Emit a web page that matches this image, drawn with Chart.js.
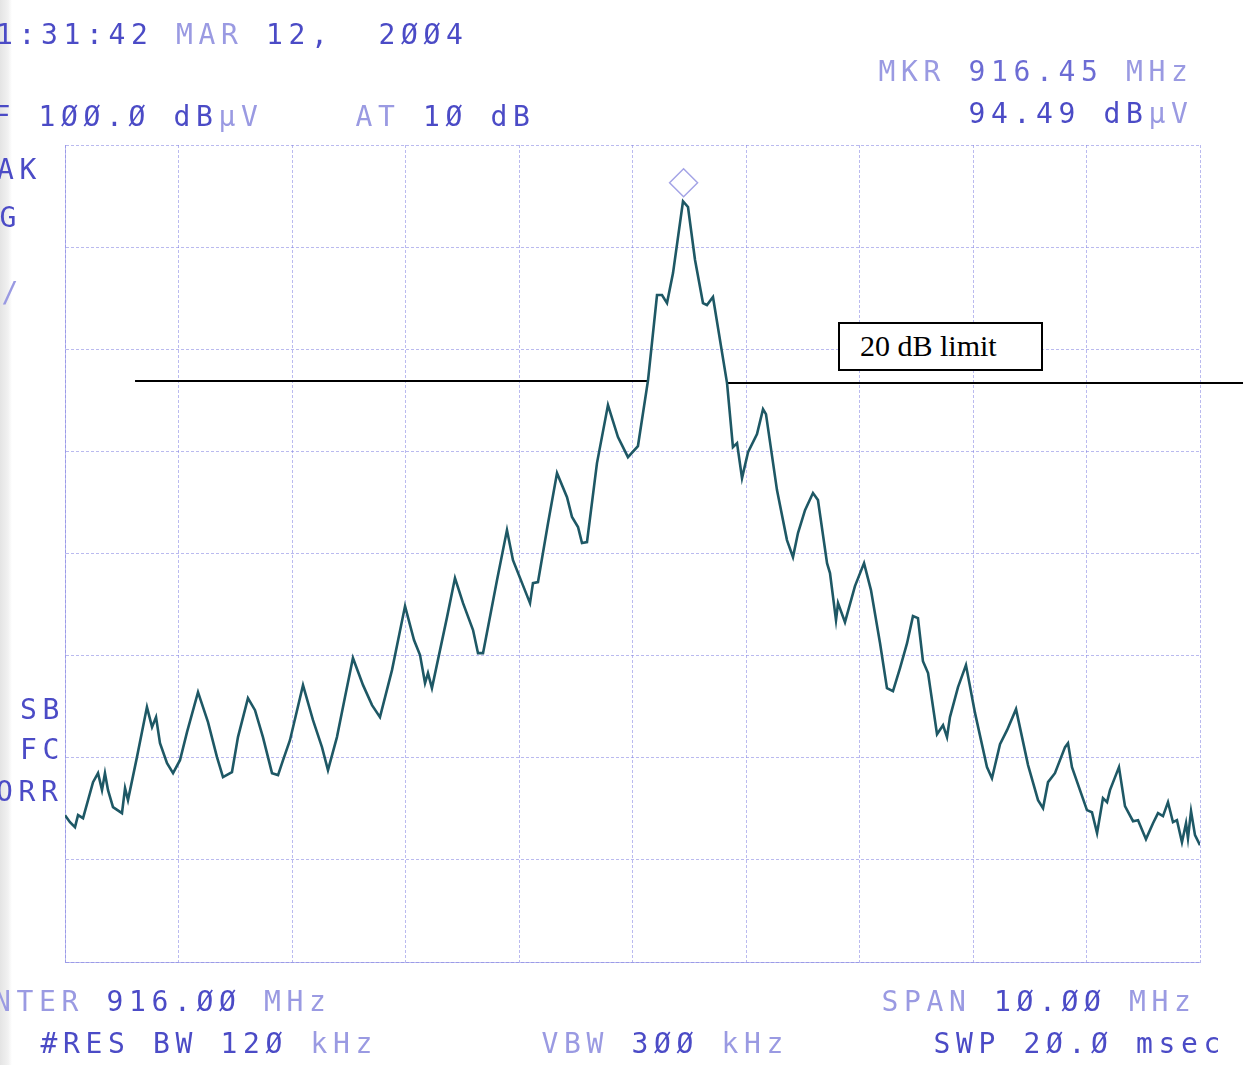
<!DOCTYPE html>
<html>

<head>
    <meta charset="utf-8">
    <script src="https://cdn.jsdelivr.net/npm/chart.js@4.4.1/dist/chart.umd.min.js"></script>
    <style>
        body { margin: 0; background: #fff; overflow: hidden; }
        #wrap { position: relative; width: 1251px; height: 1065px; overflow: hidden;
                background: linear-gradient(to right, #e4e4e4 0px, #f1f1f1 8px, #fff 12px); }
        #wrap canvas { position: absolute; left: 0; top: 0; }
        .t { position: absolute; white-space: pre; font-family: "DejaVu Sans Mono", monospace;
             font-size: 28px; line-height: 28px; letter-spacing: 5.64px; color: #4b4bc6; }
        .lt { color: #9a9ae2; }
        #limitBox { position: absolute; left: 838px; top: 322px; width: 201px; height: 45px;
                    border: 2px solid #000; background: #fff; }
        #limitBox span { position: absolute; left: 20px; top: 5px; font-family: "Liberation Serif", serif;
                         font-size: 30px; line-height: 34px; color: #000; white-space: pre; }
    </style>
</head>

<body>
    <div id="wrap">
        <canvas id="sa" width="1251" height="1065"></canvas>

        <div class="t" style="left:-26.5px;top:21px">11:31:42 <span class="lt">MAR</span> 12,  2ØØ4</div>
        <div class="t" style="left:-51.5px;top:103px">REF 1ØØ.Ø dB<span class="lt">µV</span></div>
        <div class="t lt" style="left:355.5px;top:103px">AT <span style="color:#4b4bc6">1Ø dB</span></div>
        <div class="t lt" style="left:878.5px;top:58px">MKR <span style="color:#6c6cd4">916.45</span> MHz</div>
        <div class="t" style="left:968.5px;top:100px">94.49 dB<span class="lt">µV</span></div>

        <div class="t" style="left:-48px;top:156px">PEAK</div>
        <div class="t" style="left:-45.5px;top:204px">LOG</div>
        <div class="t lt" style="left:-111px;top:279px">1Ø dB/</div>
        <div class="t" style="left:20px;top:696px">SB</div>
        <div class="t" style="left:20px;top:736px">FC</div>
        <div class="t" style="left:-26.5px;top:778px">CORR</div>

        <div class="t" style="left:-51px;top:988px"><span class="lt">CENTER</span> 916.ØØ <span class="lt">MHz</span></div>
        <div class="t" style="left:881.5px;top:988px"><span class="lt">SPAN</span> 1Ø.ØØ <span class="lt">MHz</span></div>
        <div class="t" style="left:40.5px;top:1030px">#RES BW 12Ø <span class="lt">kHz</span></div>
        <div class="t" style="left:541.5px;top:1030px"><span class="lt">VBW</span> 3ØØ <span class="lt">kHz</span></div>
        <div class="t" style="left:933.5px;top:1030px">SWP 2Ø.Ø msec</div>

        <div id="limitBox"><span>20 dB limit</span></div>
    </div>

    <script>
        // spectrum analyzer sweep (MHz / dBuV)
        const traceFreqMHz = [
            911.000, 911.044, 911.088, 911.115, 911.159, 911.247, 911.291, 911.326, 911.352, 911.379,
            911.423, 911.502, 911.529, 911.555, 911.634, 911.722, 911.767, 911.802, 911.837, 911.899,
            911.952, 912.013, 912.075, 912.172, 912.260, 912.339, 912.392, 912.471, 912.524, 912.612,
            912.674, 912.744, 912.824, 912.877, 912.921, 912.982, 913.097, 913.185, 913.264, 913.317,
            913.396, 913.467, 913.537, 913.626, 913.705, 913.775, 913.881, 913.996, 914.075, 914.128,
            914.172, 914.198, 914.233, 914.366, 914.436, 914.507, 914.595, 914.639, 914.683, 914.806,
            914.894, 914.947, 915.097, 915.123, 915.167, 915.256, 915.335, 915.423, 915.467, 915.520,
            915.555, 915.599, 915.687, 915.784, 915.872, 915.960, 916.048, 916.137, 916.216, 916.260,
            916.304, 916.357, 916.445, 916.489, 916.551, 916.621, 916.656, 916.709, 916.833, 916.885,
            916.921, 916.965, 917.018, 917.097, 917.150, 917.176, 917.273, 917.361, 917.414, 917.458,
            917.520, 917.590, 917.634, 917.714, 917.740, 917.793, 917.811, 917.872, 917.960, 918.040,
            918.101, 918.181, 918.242, 918.295, 918.357, 918.419, 918.471, 918.515, 918.559, 918.604,
            918.683, 918.736, 918.771, 918.797, 918.868, 918.938, 919.018, 919.123, 919.167, 919.238,
            919.300, 919.379, 919.485, 919.573, 919.617, 919.661, 919.722, 919.811, 919.837, 919.872,
            920.004, 920.048, 920.093, 920.145, 920.181, 920.207, 920.286, 920.339, 920.410, 920.454,
            920.524, 920.586, 920.630, 920.674, 920.718, 920.762, 920.797, 920.841, 920.877, 920.894,
            920.921, 920.956, 921.000
        ]
        const traceLevel = [
            34.38, 33.69, 33.20, 34.38, 34.08, 37.61, 38.49, 36.83, 38.49, 36.83,
            35.16, 34.57, 37.02, 35.85, 40.06, 44.96, 43.00, 43.98, 41.43, 39.47,
            38.49, 39.76, 42.51, 46.42, 43.49, 40.06, 38.10, 38.59, 42.02, 45.84,
            44.66, 42.02, 38.49, 38.30, 39.76, 41.72, 47.11, 43.68, 41.04, 38.79,
            42.02, 45.94, 49.76, 47.11, 45.15, 43.98, 48.58, 54.85, 51.52, 50.05,
            47.31, 48.29, 46.82, 53.77, 57.59, 55.14, 52.50, 50.24, 50.24, 57.39,
            62.29, 59.35, 55.14, 57.10, 57.20, 62.98, 67.87, 65.52, 63.57, 62.59,
            61.02, 61.12, 68.85, 74.53, 71.40, 69.44, 70.52, 76.98, 85.31, 85.31,
            84.52, 87.46, 94.49, 93.93, 88.74, 84.52, 84.33, 85.11, 76.69, 70.42,
            70.81, 67.38, 69.93, 71.69, 74.14, 73.65, 66.21, 61.31, 59.65, 62.00,
            64.25, 65.92, 65.23, 59.06, 58.08, 53.48, 55.14, 53.28, 56.81, 59.06,
            56.42, 51.22, 46.82, 46.52, 48.78, 51.22, 53.87, 53.67, 49.46, 48.29,
            42.31, 43.19, 42.02, 43.98, 46.91, 49.07, 44.37, 39.08, 38.00, 41.33,
            42.70, 44.76, 39.28, 35.85, 35.06, 37.61, 38.49, 41.04, 41.43, 39.08,
            34.87, 34.67, 32.62, 36.04, 35.65, 36.83, 39.08, 35.26, 33.79, 33.89,
            32.03, 33.59, 34.57, 34.28, 35.65, 33.69, 33.89, 31.73, 33.59, 32.13,
            34.77, 32.42, 31.44
        ]

        // hand drawn "20 dB limit" line, two pieces either side of the peak
        const limitLeftFreq = [911.617, 916.137]
        const limitLeftLevel = [76.89, 76.89]
        const limitRightFreq = [916.833, 921.379]
        const limitRightLevel = [76.69, 76.69]

        // marker diamond above the peak
        const markerFreq = [916.45]
        const markerLevel = [96.3]

        // screen: center 916 MHz, span 10 MHz, ref 100 dBuV, 10 dB/div
        const freqMin = 911, freqMax = 921
        const levelMin = 20, levelMax = 100

        function pts(xs, ys) {
            return xs.map((x, i) => ({ x: x, y: ys[i] }))
        }

        const gridColor = 'rgba(130,130,225,0.55)'

        new Chart(document.getElementById('sa'), {
            type: 'line',
            data: {
                datasets: [
                    {
                        data: pts(traceFreqMHz, traceLevel),
                        borderColor: '#1e5865',
                        borderWidth: 2.6,
                        pointRadius: 0,
                        tension: 0
                    },
                    {
                        data: pts(limitLeftFreq, limitLeftLevel),
                        borderColor: '#000',
                        borderWidth: 2,
                        pointRadius: 0,
                        clip: false
                    },
                    {
                        data: pts(limitRightFreq, limitRightLevel),
                        borderColor: '#000',
                        borderWidth: 2,
                        pointRadius: 0,
                        clip: false
                    },
                    {
                        data: pts(markerFreq, markerLevel),
                        showLine: false,
                        pointStyle: 'rectRot',
                        pointRadius: 14,
                        pointBorderWidth: 1.5,
                        pointBorderColor: '#a4a4e6',
                        pointBackgroundColor: 'rgba(255,255,255,0)',
                        clip: false
                    }
                ]
            },
            options: {
                responsive: false,
                animation: false,
                layout: { padding: { left: 65, top: 145, right: 51, bottom: 103 } },
                plugins: { legend: { display: false }, tooltip: { enabled: false } },
                scales: {
                    x: {
                        type: 'linear',
                        min: freqMin,
                        max: freqMax,
                        ticks: { display: false, stepSize: 1 },
                        grid: { color: gridColor, lineWidth: 1, drawTicks: false, tickLength: 0 },
                        border: { display: true, color: gridColor, dash: [3, 2] }
                    },
                    y: {
                        type: 'linear',
                        min: levelMin,
                        max: levelMax,
                        ticks: { display: false, stepSize: 10 },
                        grid: { color: gridColor, lineWidth: 1, drawTicks: false, tickLength: 0 },
                        border: { display: true, color: gridColor, dash: [3, 2] }
                    }
                }
            }
        })
    </script>

</body>

</html>
